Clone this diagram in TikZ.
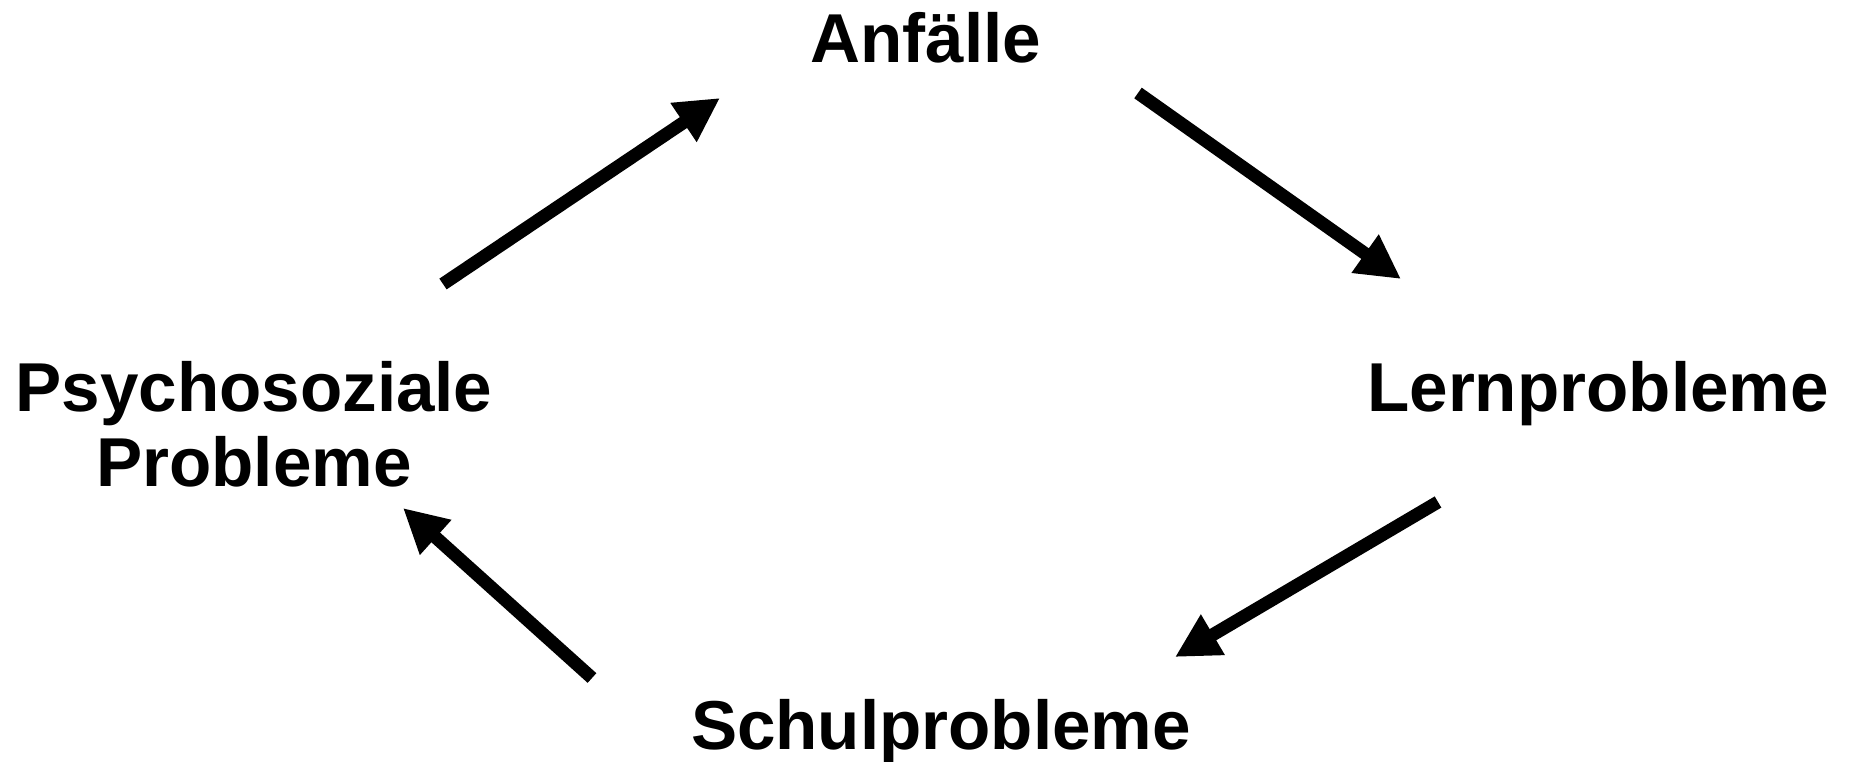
\documentclass[tikz,border=0pt]{standalone}
\usepackage{fontspec}
\setmainfont{Liberation Sans}
\usetikzlibrary{arrows.meta}
\begin{document}
\begin{tikzpicture}[x=0.5pt,y=-0.5pt,
  lbl/.style={font=\bfseries\fontsize{34.6pt}{37.5pt}\selectfont, inner sep=0pt, anchor=base, align=center},
  cyc/.style={line width=6.5pt, -{Triangle[length=22pt,width=22pt]}}]
\useasboundingbox (0,0) rectangle (1856,761);
\node[lbl] (anf) at (926,62) {Anfälle};
\node[lbl] (lern) at (1598,411) {Lernprobleme};
\node[lbl] (schul) at (941,749) {Schulprobleme};
\node[lbl] (psy) at (254,486) {Psychosoziale\\Probleme};
\coordinate (a1s) at (443,284);
\coordinate (a1e) at (720,98);
\coordinate (a2s) at (1138,93);
\coordinate (a2e) at (1401,279);
\coordinate (a3s) at (1438,502);
\coordinate (a3e) at (1175,657);
\coordinate (a4s) at (592,678);
\coordinate (a4e) at (403,508);
\draw[cyc] (a1s) -- (a1e);
\draw[cyc] (a2s) -- (a2e);
\draw[cyc] (a3s) -- (a3e);
\draw[cyc] (a4s) -- (a4e);
\end{tikzpicture}
\end{document}
